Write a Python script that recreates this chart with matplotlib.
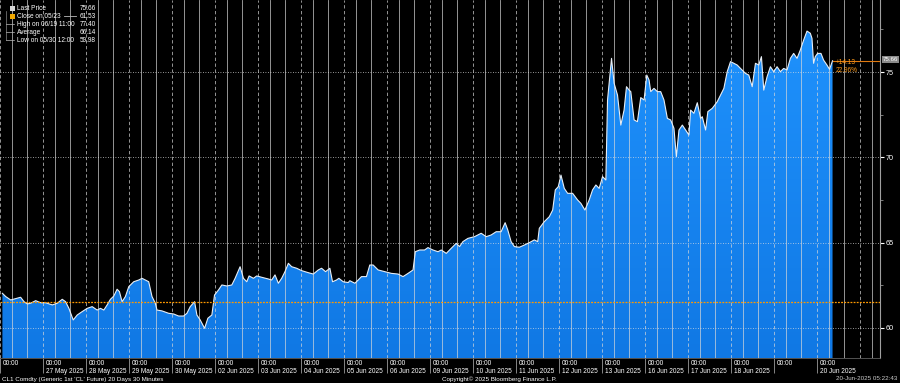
import numpy as np
import matplotlib
matplotlib.use("Agg")
import matplotlib.pyplot as plt
from matplotlib.colors import LinearSegmentedColormap

plt.rcParams["font.family"] = ["Liberation Sans", "DejaVu Sans"]

# CL1 Comdty, 30-minute bars. x = trading day index (0 = 26 May 00:00), y = price
bar_day = [
    0.056, 0.133, 0.249, 0.365, 0.48, 0.559, 0.636, 0.713, 0.829, 0.944,
    1.06, 1.216, 1.332, 1.448, 1.525, 1.603, 1.703, 1.796, 1.912, 2.028,
    2.144, 2.26, 2.337, 2.415, 2.492, 2.569, 2.647, 2.724, 2.778, 2.84,
    2.917, 2.995, 3.111, 3.227, 3.304, 3.38, 3.459, 3.536, 3.613, 3.652,
    3.768, 3.923, 4.039, 4.155, 4.271, 4.348, 4.425, 4.526, 4.58, 4.657,
    4.759, 4.835, 4.928, 4.99, 5.083,
    5.16, 5.276, 5.392, 5.469, 5.585, 5.663, 5.74, 5.794, 5.895, 5.972,
    6.088, 6.243, 6.32, 6.397, 6.475, 6.552, 6.629, 6.708, 6.784, 6.9,
    7.016, 7.172, 7.288, 7.404, 7.48, 7.573, 7.673, 7.735, 7.828, 7.882,
    7.983, 8.1, 8.137, 8.255, 8.332, 8.408, 8.524, 8.602, 8.68, 8.796,
    8.949, 9.104, 9.259, 9.375, 9.492, 9.608, 9.661, 9.762, 9.877, 9.955,
    10.07, 10.188,
    10.265, 10.381, 10.497, 10.613, 10.69, 10.768, 10.884, 11.037, 11.193, 11.309,
    11.425, 11.541, 11.657, 11.75, 11.812, 11.889, 11.965, 12.081, 12.197, 12.313,
    12.429, 12.508, 12.545, 12.661, 12.777, 12.856, 12.917, 12.986, 13.049, 13.126,
    13.204, 13.32, 13.436, 13.513, 13.606, 13.705, 13.784, 13.861, 13.937, 14.016,
    14.093, 14.132, 14.225, 14.285, 14.364, 14.441, 14.517, 14.573, 14.634,
    14.673, 14.75, 14.827, 14.905, 14.982, 15.045, 15.098, 15.137, 15.213, 15.292,
    15.369, 15.445, 15.524, 15.601, 15.677, 15.733, 15.794, 15.872, 15.949, 16.025,
    16.065, 16.141, 16.22, 16.297, 16.336, 16.413, 16.466, 16.568, 16.684, 16.761,
    16.838, 16.916, 16.993, 17.07, 17.148, 17.225, 17.341, 17.418, 17.497, 17.573,
    17.65, 17.712, 17.766, 17.844, 17.921, 17.998, 18.076, 18.153, 18.23, 18.308,
    18.385, 18.462, 18.54, 18.617, 18.694, 18.772, 18.849, 18.888, 18.925, 18.964,
    19.018, 19.097, 19.157, 19.236, 19.296, 19.366,
]
price = [
    62.03, 61.84, 61.64, 61.72, 61.80, 61.54, 61.41, 61.45, 61.60, 61.48,
    61.48, 61.35, 61.45, 61.68, 61.54, 61.15, 60.47, 60.76, 60.96, 61.15,
    61.25, 61.05, 61.15, 61.05, 61.35, 61.68, 61.87, 62.27, 62.13, 61.54,
    61.84, 62.42, 62.71, 62.81, 62.91, 62.81, 62.71, 61.84, 61.45, 61.05,
    61.00, 60.86, 60.82, 60.70, 60.70, 60.86, 61.25, 61.54, 60.76, 60.47,
    59.98, 60.57, 60.76, 61.93, 62.23,
    62.52, 62.46, 62.52, 62.91, 63.59, 62.91, 62.71, 63.05, 62.91, 63.05,
    62.97, 62.87, 62.81, 63.11, 62.62, 62.91, 63.30, 63.79, 63.59, 63.50,
    63.36, 63.24, 63.16, 63.40, 63.50, 63.30, 63.50, 62.71, 62.81, 62.91,
    62.71, 62.66, 62.77, 62.62, 62.81, 63.01, 63.01, 63.69, 63.69, 63.40,
    63.30, 63.20, 63.16, 63.01, 63.20, 63.40, 64.47, 64.57, 64.57, 64.71,
    64.57, 64.47,
    64.57, 64.37, 64.67, 64.96, 64.77, 65.06, 65.25, 65.35, 65.55, 65.35,
    65.45, 65.64, 65.64, 66.17, 65.74, 65.06, 64.77, 64.73, 64.86, 65.00,
    65.16, 65.06, 65.84, 66.23, 66.52, 66.91, 68.09, 68.28, 68.96, 68.18,
    67.89, 67.89, 67.50, 67.30, 66.91, 67.50, 68.09, 68.38, 68.18, 68.87,
    68.67, 73.36, 75.80, 74.34, 73.65, 71.89, 72.77, 74.14, 73.94,
    73.85, 72.19, 72.09, 73.50, 73.36, 74.82, 74.53, 73.85, 74.04, 73.85,
    73.85, 73.36, 72.28, 72.19, 71.70, 70.04, 71.60, 71.89, 71.60, 71.31,
    72.77, 72.58, 73.20, 72.28, 72.38, 71.60, 72.68, 72.87, 73.26, 73.65,
    74.04, 75.02, 75.61, 75.51, 75.41, 75.21, 74.92, 74.82, 74.14, 75.51,
    75.41, 75.90, 73.94, 74.73, 75.31, 75.02, 75.31, 75.02, 75.21, 75.12,
    75.80, 76.09, 75.80, 76.29, 76.87, 77.40, 77.27, 76.97, 75.51, 75.90,
    76.09, 76.09, 75.70, 75.41, 75.16, 75.66,
]

day_labels = [
    "", "27 May 2025", "28 May 2025", "29 May 2025", "30 May 2025",
    "02 Jun 2025", "03 Jun 2025", "04 Jun 2025", "05 Jun 2025", "06 Jun 2025",
    "09 Jun 2025", "10 Jun 2025", "11 Jun 2025", "12 Jun 2025", "13 Jun 2025",
    "16 Jun 2025", "17 Jun 2025", "18 Jun 2025", "", "20 Jun 2025",
]
y_ticks = [60, 65, 70, 75]
close_0523 = 61.53
last_price = 75.66
change_txt = ["+14.13", "22.96%"]

legend_names = ["Last Price", "Close on 05/23", "High on 06/19 11:00",
                "Average", "Low on 05/30 12:00"]
legend_values = ["75.66", "61.53", "77.40", "66.14", "59.98"]

footer_left = "CL1 Comdty (Generic 1st 'CL' Future) 20 Days 30 Minutes"
footer_mid = "Copyright\u00a9 2025 Bloomberg Finance L.P."
footer_right = "20-Jun-2025 05:22:43"

W, H = 900, 383
YMIN, YMAX = 58.24, 79.22
XMIN, XMAX = 0.056, 20.47
FS = 4.7

fig = plt.figure(figsize=(W / 100, H / 100), dpi=100, facecolor="black")
ax = fig.add_axes([0, 1 - 358 / H, 880 / W, 358 / H])
ax.set_facecolor("black")

# gradient area fill
poly = ax.fill_between(bar_day, price, YMIN, color="none", lw=0)
cmap = LinearSegmentedColormap.from_list("bbg", ["#1078e4", "#2094ff"])
grad = np.linspace(0, 1, 256).reshape(-1, 1)
im = ax.imshow(grad, extent=[XMIN, XMAX, YMIN, YMAX], origin="lower",
               aspect="auto", cmap=cmap, zorder=1)
im.set_clip_path(poly.get_paths()[0], transform=ax.transData)
ax.plot(bar_day, price, color="#e8eef5", lw=0.8, zorder=3)

# grid: dashed at day starts, solid inside each day
n_days = len(day_labels)
for d in range(n_days + 1):
    ax.axvline(d, color="#d8d8d8", lw=0.6, ls=(0, (4, 3)), alpha=0.8, zorder=2)
    for frac in (0.28, 0.63):
        ax.axvline(d + frac, color="#d8d8d8", lw=0.6, alpha=0.8, zorder=2)
for yv in y_ticks:
    ax.axhline(yv, color="#e0e0e0", lw=0.6, ls=(0, (1, 2)), alpha=0.9, zorder=2)

# close on 05/23 reference line
ax.axhline(close_0523, color="#ff9a00", lw=0.9, ls=(0, (1.5, 1)), zorder=4)
# last price marker line
ax.plot([bar_day[-1], XMAX], [last_price, last_price], color="#e07a10",
        lw=0.8, zorder=4)

ax.set_xlim(XMIN, XMAX)
ax.set_ylim(YMIN, YMAX)

ax.yaxis.tick_right()
ax.set_yticks(y_ticks)
ax.set_yticklabels([str(v) for v in y_ticks])
ax.set_yticks([62.5, 67.5, 72.5, 77.5], minor=True)
ax.tick_params(axis="y", which="major", colors="white", labelsize=5.2,
               length=3, width=0.8, pad=1)
ax.tick_params(axis="y", which="minor", colors="#aaaaaa", length=2, width=0.5)

ax.set_xticks(range(n_days))
ax.set_xticklabels([])
ax.tick_params(axis="x", which="major", colors="#9a9a9a", length=11,
               width=0.6, direction="out")

for s in ["top", "left"]:
    ax.spines[s].set_visible(False)
ax.spines["right"].set_color("#a0a0a0")
ax.spines["right"].set_linewidth(0.8)
ax.spines["bottom"].set_color("#606060")
ax.spines["bottom"].set_linewidth(0.6)

# x tick labels, left-aligned after each day separator
for d, lab in enumerate(day_labels):
    ax.text(d + 0.07, 1 - 363.5 / 358, "00:00", transform=ax.get_xaxis_transform(),
            color="white", fontsize=FS, ha="left", va="center")
    if lab:
        ax.text(d + 0.07, 1 - 371.5 / 358, lab, transform=ax.get_xaxis_transform(),
                color="white", fontsize=FS, ha="left", va="center")

# right-edge annotations
fig.text(836 / W, 1 - 62 / H, change_txt[0], color="#ff9a1a", fontsize=FS,
         ha="left", va="center")
fig.text(836 / W, 1 - 70.5 / H, change_txt[1], color="#ff9a1a", fontsize=FS,
         ha="left", va="center")
fig.text(883 / W, 1 - 59.5 / H, f"{last_price:.2f}", color="white", fontsize=4.4,
         ha="left", va="center",
         bbox=dict(boxstyle="square,pad=0.12", fc="#8a8a8a", ec="none"))

# legend block (top-left)
row_y = [8.5, 16, 24, 32, 40]
for i, (name, val) in enumerate(zip(legend_names, legend_values)):
    fy = 1 - row_y[i] / H
    fig.text(17 / W, fy, name, color="white", fontsize=FS, ha="left", va="center")
    fig.text(96 / W, fy, val, color="white", fontsize=FS, ha="right", va="center")
fig.patches.append(plt.Rectangle((10 / W, 1 - 11 / H), 5 / W, 5 / H,
                                 transform=fig.transFigure, fc="#d8d8d8", ec="none"))
fig.patches.append(plt.Rectangle((10 / W, 1 - 18.5 / H), 5 / W, 5 / H,
                                 transform=fig.transFigure, fc="#f0a800", ec="none"))
fig.lines.append(plt.Line2D([64 / W, 76 / W], [1 - 16 / H] * 2,
                            transform=fig.transFigure, color="#bbbbbb", lw=0.6))
fig.lines.append(plt.Line2D([6 / W, 6 / W], [1 - 11 / H, 1 - 40 / H],
                            transform=fig.transFigure, color="#888888", lw=0.5))
for ry in row_y[2:]:
    fig.lines.append(plt.Line2D([6 / W, 14 / W], [1 - ry / H] * 2,
                                transform=fig.transFigure, color="#bbbbbb", lw=0.5))

# footer
fig.text(2 / W, 1 - 379 / H, footer_left, color="white", fontsize=4.5,
         ha="left", va="center")
fig.text(499 / W, 1 - 379 / H, footer_mid, color="white", fontsize=4.5,
         ha="center", va="center")
fig.text(897 / W, 1 - 379 / H, footer_right, color="#cccccc", fontsize=4.5,
         ha="right", va="center")

fig.savefig("out.png", dpi=100, facecolor="black")
